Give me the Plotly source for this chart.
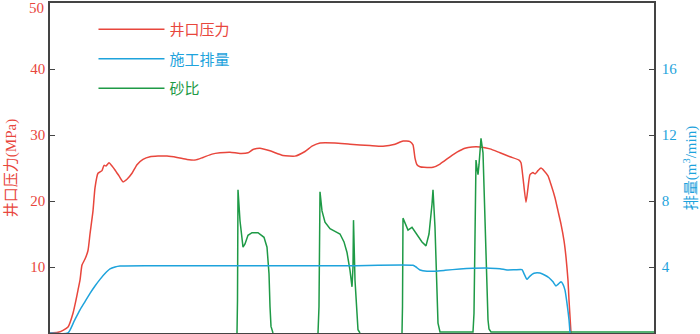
import plotly.graph_objects as go

# ---- data (time axis in arbitrary units, no labels shown) ----
p_time = [0, 8, 13, 18, 23, 26, 28, 30, 32, 35, 38, 40, 43, 45, 48, 50, 52, 54, 56, 59, 62, 65, 69,
          73, 77, 82, 87, 93, 100, 108, 117, 127, 137, 145, 153, 162, 170, 180, 190, 198, 203, 210,
          220, 233, 245, 255, 262, 270, 285, 300, 320, 333, 345, 353, 360, 363, 365, 367, 370, 374,
          383, 390, 400, 407, 415, 422, 430, 440, 450, 460, 469, 471, 473, 476, 478, 480, 483, 485,
          488, 491, 494, 498, 501, 505, 508, 511, 514, 516, 518, 519, 521]
pressure = [0, 0.1, 0.4, 0.9, 3.0, 5.0, 6.5, 8.0, 10.3, 11.2, 12.5, 15.0, 18.5, 22.0, 24.2, 24.4, 24.6,
            25.4, 25.3, 25.8, 25.3, 24.7, 23.8, 22.9, 23.3, 24.2, 25.5, 26.3, 26.7, 26.8, 26.8, 26.6,
            26.3, 26.2, 26.6, 27.1, 27.3, 27.4, 27.2, 27.3, 27.8, 28.0, 27.6, 26.9, 26.8, 27.5, 28.3,
            28.8, 28.8, 28.6, 28.4, 28.3, 28.6, 29.1, 29.0, 28.5, 26.5, 25.5, 25.2, 25.1, 25.1, 25.6,
            26.7, 27.4, 28.0, 28.2, 28.2, 27.9, 27.3, 26.7, 26.2, 25.8, 23.5, 19.8, 22.0, 24.0, 24.3,
            24.1, 24.6, 25.0, 24.6, 23.8, 22.5, 20.5, 18.5, 16.5, 14.0, 11.5, 8.0, 5.0, 0.0]

q_time = [0, 18, 24, 30, 35, 40, 45, 50, 55, 60, 65, 70, 100, 200, 300, 363, 366, 370, 377, 385, 395,
          410, 423, 440, 450, 457, 465, 472, 474, 477, 480, 484, 490, 495, 499, 503, 506, 508, 511, 513,
          515, 517, 519, 520]
rate = [0, 0, 0.7, 1.4, 1.9, 2.4, 2.85, 3.25, 3.6, 3.88, 4.0, 4.06, 4.08, 4.08, 4.08, 4.1, 4.0, 3.82,
        3.74, 3.75, 3.8, 3.88, 3.92, 3.93, 3.9, 3.82, 3.83, 3.84, 3.6, 3.25, 3.45, 3.62, 3.63, 3.5,
        3.35, 3.1, 2.85, 2.95, 3.1, 2.95, 2.6, 1.8, 0.8, 0.0]

# sand ratio: None marks the idle intervals (value sits on the baseline, hidden by the axis)
s_time = [187, 187.5, 188, 190, 193, 195, 198, 202, 208, 214, 217, 219, 220, 221, 223,
          245,
          268, 269, 270, 272, 275, 280, 285, 290, 294, 297, 300, 302, 303, 303.5, 305, 307, 308, 310,
          330,
          352, 352.5, 353, 355, 358, 362, 365, 368, 372, 376, 379, 382, 383, 385, 387, 388, 390,
          423, 424, 425, 426, 427, 428, 429, 431, 433, 434, 436, 437, 438, 439, 441, 604]
sand = [0, 5, 21.7, 17.0, 13.0, 13.5, 14.8, 15.2, 15.2, 14.5, 13.0, 9.0, 4.0, 1.0, 0,
        None,
        0, 4, 21.4, 18.5, 16.8, 15.8, 15.4, 15.0, 13.8, 12.2, 9.5, 7.0, 10.0, 17.1, 8.0, 2.0, 0.5, 0,
        None,
        0, 4, 17.4, 16.6, 15.6, 16.0, 15.3, 14.7, 13.8, 13.2, 15.0, 19.5, 21.7, 16.0, 5.0, 1.5, 0.15,
        0.15, 3, 15, 26.2, 25.0, 24.0, 25.5, 29.5, 27.3, 22.0, 12.0, 5.0, 2.0, 0.6, 0.15, 0.15]

left_ticks = [10, 20, 30, 40]
left_top_tick = 50
right_ticks = [4, 8, 12, 16]

RED = "#e8463c"
BLUE = "#1ea3dc"
GREEN = "#1e9a46"
AXC = "#444444"
FONT = "Liberation Serif, Noto Sans CJK SC"

fig = go.Figure()
fig.add_trace(go.Scatter(x=p_time, y=pressure, mode="lines", name=f'<span style="color:{RED}">井口压力</span>',
                         line=dict(color=RED, width=1.5, shape="spline", smoothing=0.5),
                         legendgroup="a"))
fig.add_trace(go.Scatter(x=q_time, y=rate, mode="lines", name=f'<span style="color:{BLUE}">施工排量</span>',
                         line=dict(color=BLUE, width=1.5, shape="spline", smoothing=0.5),
                         yaxis="y2", legendgroup="b"))
fig.add_trace(go.Scatter(x=s_time, y=sand, mode="lines", name=f'<span style="color:{GREEN}">砂比</span>',
                         line=dict(color=GREEN, width=1.5), legendgroup="c", connectgaps=False))

# top tick label sits just below the frame (as in the reference)
fig.add_annotation(x=0, xref="paper", xanchor="right", xshift=-4, y=left_top_tick, yref="y",
                   yanchor="middle", yshift=-5, text=str(left_top_tick), showarrow=False,
                   font=dict(color=RED, size=15, family=FONT))

fig.update_layout(
    width=700, height=334,
    margin=dict(l=50, r=46, t=3, b=1),
    paper_bgcolor="white", plot_bgcolor="white",
    font=dict(family=FONT, size=15),
    showlegend=True,
    legend=dict(x=0.072, y=0.97, xanchor="left", yanchor="top", bgcolor="rgba(0,0,0,0)",
                font=dict(size=15, family=FONT), tracegroupgap=7, itemwidth=66),
    xaxis=dict(range=[0, 604], showticklabels=False, ticks="", showgrid=False, zeroline=False,
               showline=True, linecolor=AXC, linewidth=1.5, mirror=True, automargin=False),
    yaxis=dict(range=[0, 50], tickvals=left_ticks,
               ticks="inside", ticklen=5,
               tickcolor=AXC, tickwidth=1.2, showgrid=False, zeroline=False,
               showline=True, linecolor=AXC, linewidth=1.5, automargin=False,
               tickfont=dict(color=RED, size=15, family=FONT),
               title=dict(text="井口压力(MPa)", font=dict(color=RED, size=15, family=FONT), standoff=10)),
    yaxis2=dict(range=[0, 20], tickvals=right_ticks, overlaying="y", side="right",
                ticks="inside", ticklen=5, tickcolor=AXC, tickwidth=1.2, showgrid=False,
                zeroline=False, showline=True, linecolor=AXC, linewidth=1.5, automargin=False,
                ticklabelstandoff=3,
                tickfont=dict(color=BLUE, size=15, family=FONT),
                title=dict(text="排量(m<sup>3</sup>/min)", font=dict(color=BLUE, size=15, family=FONT),
                           standoff=10)),
)

fig.write_html("out.html", config={"displayModeBar": False},
               post_script="document.body.style.margin='0px';")
